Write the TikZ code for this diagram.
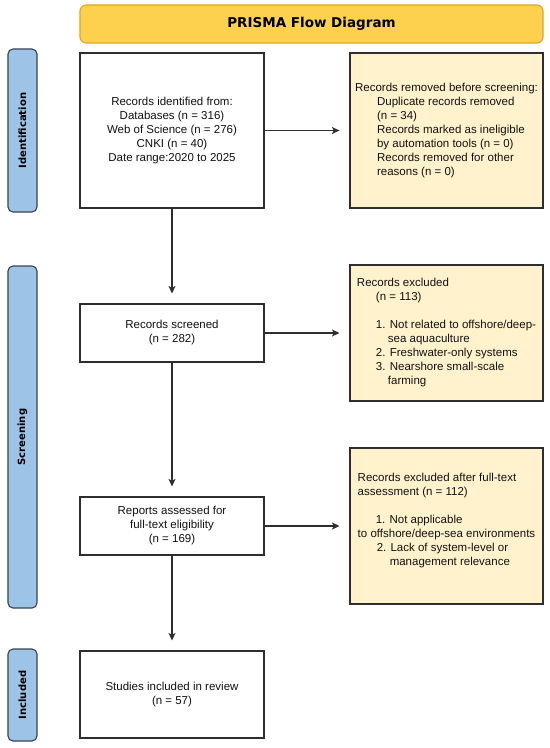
\documentclass[tikz,border=0pt]{standalone}
\usepackage{fontspec}
\setmainfont{Liberation Sans}
\newfontfamily\dejavu{DejaVu Sans}
\usetikzlibrary{arrows.meta}
\definecolor{linegray}{HTML}{2E2E2E}
\definecolor{txt}{HTML}{111111}
\definecolor{goldfill}{HTML}{FDD04D}
\definecolor{goldline}{HTML}{E0A526}
\definecolor{bluefill}{HTML}{9DC3E6}
\definecolor{bluedraw}{HTML}{3A4250}
\definecolor{creamfill}{HTML}{FFF2CC}
\begin{document}
\begin{tikzpicture}[x=1bp,y=-1bp,
  bodyfont/.style={font=\fontsize{11.5bp}{14bp}\selectfont},
  whitebox/.style={draw=linegray, line width=1.1bp, fill=white, inner sep=0pt, text=txt, align=center, bodyfont},
  creambox/.style={draw=linegray, line width=1.1bp, fill=creamfill, inner sep=0pt, text=txt, align=left, bodyfont},
  sidebar/.style={draw=bluedraw, line width=1.1bp, fill=bluefill, rounded corners=5bp, inner sep=0pt, minimum width=29bp, text=black},
  sidelabel/.style={rotate=90, font=\dejavu\bfseries\fontsize{10bp}{12bp}\selectfont, text=black, inner sep=0pt},
  titlebar/.style={draw=goldline, line width=1.1bp, fill=goldfill, rounded corners=6bp, inner sep=0pt, text=black, font=\dejavu\bfseries\fontsize{13.5bp}{16bp}\selectfont},
  flow/.style={draw=linegray, line width=1.1bp, -{Stealth[length=7.5bp,width=7bp,inset=1.8bp]}, shorten >=10bp}
]
\useasboundingbox (0,0) rectangle (550,748);

% title
\node[titlebar, minimum width=463bp, minimum height=38bp] (title) at (311.5,24) {PRISMA Flow Diagram};

% side bars
\node[sidebar, minimum height=163bp] (idbar) at (22.5,130.5) {};
\node[sidelabel] (idlab) at (idbar.center) {Identification};
\node[sidebar, minimum height=342bp] (scbar) at (22.5,437) {};
\node[sidelabel] (sclab) at (scbar.center) {Screening};
\node[sidebar, minimum height=92bp] (inbar) at (22.5,695) {};
\node[sidelabel] (inlab) at (inbar.center) {Included};

% main boxes
\node[whitebox, minimum width=184bp, minimum height=155bp] (ident) at (172,130.5)
  {Records identified from:\\ Databases (n = 316)\\ Web of Science (n = 276)\\ CNKI (n = 40)\\ Date range:2020 to 2025};
\node[whitebox, minimum width=184bp, minimum height=58bp] (screened) at (172,333)
  {Records screened\\ (n = 282)};
\node[whitebox, minimum width=184bp, minimum height=58bp] (reports) at (172,526)
  {Reports assessed for\\ full-text eligibility\\ (n = 169)};
\node[whitebox, minimum width=184bp, minimum height=87bp] (included) at (172,694.5)
  {Studies included in review\\ (n = 57)};

% side boxes
\node[creambox, minimum width=193bp, minimum height=155bp] (removed) at (446.5,130.5)
  {Records removed before screening:\\
   \hspace*{22bp}Duplicate records removed\\
   \hspace*{22bp}(n = 34)\\
   \hspace*{22bp}Records marked as ineligible\\
   \hspace*{22bp}by automation tools (n = 0)\\
   \hspace*{22bp}Records removed for other\\
   \hspace*{22bp}reasons (n = 0)};
\node[creambox, minimum width=193bp, minimum height=136bp] (excl) at (446.5,333)
  {Records excluded\\
   \hspace*{19bp}(n = 113)\\[14bp]
   \hspace*{19bp}1. Not related to offshore/deep-\\
   \hspace*{31bp}sea aquaculture\\
   \hspace*{19bp}2. Freshwater-only systems\\
   \hspace*{19bp}3. Nearshore small-scale\\
   \hspace*{31bp}farming};
\node[creambox, minimum width=193bp, minimum height=156bp] (exclft) at (446.5,526)
  {Records excluded after full-text\\
   assessment (n = 112)\\[14bp]
   \hspace*{18bp}1. Not applicable\\
   to offshore/deep-sea environments\\
   \hspace*{19bp}2. Lack of system-level or\\
   \hspace*{32bp}management relevance\\
   \mbox{}};

% connectors
\draw[flow] (ident.south) -- (screened.north);
\draw[flow] (screened.south) -- (reports.north);
\draw[flow] (reports.south) -- (included.north);
\draw[flow] (ident.east) -- (ident.east -| removed.west);
\draw[flow] (screened.east) -- (screened.east -| excl.west);
\draw[flow] (reports.east) -- (reports.east -| exclft.west);
\end{tikzpicture}
\end{document}
